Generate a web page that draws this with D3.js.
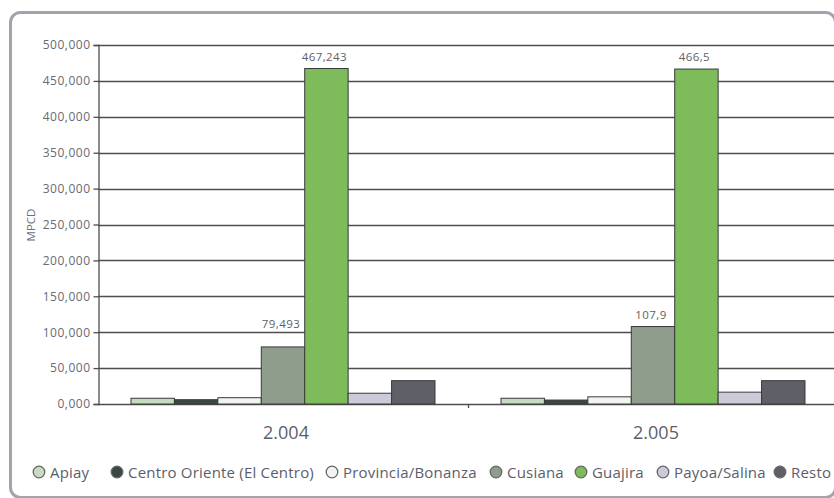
<!DOCTYPE html>
<html>
<head>
<meta charset="utf-8">
<script src="https://cdn.jsdelivr.net/npm/d3@7"></script>
<style>
  html, body { margin: 0; padding: 0; background: #ffffff; overflow: hidden; }
  svg { display: block; font-family: "Open Sans", "Noto Sans", sans-serif; }
</style>
</head>
<body>
<svg id="chart" width="834" height="498"></svg>
<script>
// Gas production by field (MPCD), years 2.004 and 2.005
const years = ["2.004", "2.005"];
const fields = ["Apiay", "Centro Oriente (El Centro)", "Provincia/Bonanza", "Cusiana", "Guajira", "Payoa/Salina", "Resto"];
const values2004 = [8.0, 6.0, 8.8, 79.493, 467.243, 15.0, 32.5];
const values2005 = [8.0, 5.5, 10.0, 107.9, 466.5, 16.5, 32.5];
const yTicks = [0, 50, 100, 150, 200, 250, 300, 350, 400, 450, 500];
// Only these bars carry value labels, written as printed
const labelled = { "2.004": { "Cusiana": "79,493", "Guajira": "467,243" },
                   "2.005": { "Cusiana": "107,9", "Guajira": "466,5" } };
const fieldColors = ["#c6dcc0", "#3a4840", "#f0f5ef", "#8f9d8c", "#7dbb5b", "#cbcad9", "#5f6067"];

const valuesByYear = { "2.004": values2004, "2.005": values2005 };

const svg = d3.select("#chart");

// outer rounded frame
svg.append("rect")
  .attr("x", 10.5).attr("y", 12.5)
  .attr("width", 825).attr("height", 485)
  .attr("rx", 10).attr("ry", 10)
  .attr("fill", "none")
  .attr("stroke", "#a3a3ab")
  .attr("stroke-width", 3);

const plotLeft = 98, plotRight = 838, plotTop = 45, plotBottom = 404;

const y = d3.scaleLinear().domain([0, 500]).range([plotBottom, plotTop]);
const x0 = d3.scaleBand().domain(years).range([plotLeft, plotRight]).padding(0);
const x1 = d3.scaleBand().domain(fields).range([0, x0.bandwidth()])
  .paddingInner(0).paddingOuter(0.76);
const color = d3.scaleOrdinal().domain(fields).range(fieldColors);

// decimal comma, three decimals on the axis
const fmtAxis = v => d3.format(".3f")(v).replace(".", ",");

// horizontal gridlines
svg.append("g")
  .selectAll("line")
  .data(yTicks)
  .join("line")
  .attr("x1", plotLeft).attr("x2", 834)
  .attr("y1", d => Math.round(y(d)) + 0.5)
  .attr("y2", d => Math.round(y(d)) + 0.5)
  .attr("stroke", "#4e4e4e")
  .attr("stroke-width", 1.3);

// y axis
const yAxis = svg.append("g")
  .attr("transform", `translate(${plotLeft + 0.5},0)`)
  .call(d3.axisLeft(y).tickValues(yTicks).tickFormat(fmtAxis).tickSize(5).tickPadding(3));
yAxis.select(".domain").attr("stroke", "#4e4e4e").attr("stroke-width", 1.3);
yAxis.selectAll(".tick line").attr("stroke", "#4e4e4e").attr("stroke-width", 1.3);
yAxis.selectAll(".tick text")
  .attr("fill", "#686a74")
  .style("font-size", "12px")
  .style("letter-spacing", "0.5px")
  .style("font-family", "'Open Sans', sans-serif");

// category separator tick below the baseline
svg.append("line")
  .attr("x1", x0("2.005") + 0.5).attr("x2", x0("2.005") + 0.5)
  .attr("y1", plotBottom).attr("y2", plotBottom + 4)
  .attr("stroke", "#4e4e4e").attr("stroke-width", 1.3);

// bars
const groups = svg.append("g")
  .selectAll("g")
  .data(years)
  .join("g")
  .attr("transform", d => `translate(${x0(d)},0)`);

groups.selectAll("rect")
  .data(yr => fields.map((f, i) => ({ year: yr, field: f, value: valuesByYear[yr][i] })))
  .join("rect")
  .attr("x", d => x1(d.field))
  .attr("y", d => y(d.value))
  .attr("width", x1.bandwidth())
  .attr("height", d => y(0) - y(d.value))
  .attr("fill", d => color(d.field))
  .attr("stroke", "#3a3a3a")
  .attr("stroke-width", 1);

// value label baseline: just above the bar, lifted clear of any gridline it would cross
function labelBaseline(v) {
  let base = y(v) - 8;
  const top = base - 9;
  const hit = yTicks.map(t => y(t)).find(gy => gy >= top && gy <= base + 2);
  if (hit !== undefined) base = hit - 4;
  return base;
}

// value labels
groups.selectAll("text.val")
  .data(yr => fields.map((f, i) => ({ year: yr, field: f, value: valuesByYear[yr][i] }))
    .filter(d => labelled[d.year][d.field]))
  .join("text")
  .attr("class", "val")
  .attr("x", d => x1(d.field) + x1.bandwidth() / 2 - 2)
  .attr("y", d => labelBaseline(d.value))
  .attr("text-anchor", "middle")
  .attr("fill", "#5e5f6a")
  .style("font-size", "11.5px")
  .style("letter-spacing", "0.4px")
  .text(d => labelled[d.year][d.field]);

// category labels
svg.append("g")
  .selectAll("text")
  .data(years)
  .join("text")
  .attr("x", d => x0(d) + x0.bandwidth() / 2 + 3)
  .attr("y", 439)
  .attr("text-anchor", "middle")
  .attr("fill", "#5e5f6a")
  .style("font-size", "18px")
  .text(d => d);

// y axis title
svg.append("text")
  .attr("transform", "translate(35,225) rotate(-90)")
  .attr("text-anchor", "middle")
  .attr("fill", "#66708a")
  .style("font-size", "11.5px")
  .text("MPCD");

// legend
const legendX = [39, 117, 332, 496, 581, 663, 780];
const legend = svg.append("g")
  .selectAll("g")
  .data(fields)
  .join("g")
  .attr("transform", (d, i) => `translate(${legendX[i]},472)`);
legend.append("circle")
  .attr("r", 5.8)
  .attr("fill", d => color(d))
  .attr("stroke", "#666")
  .attr("stroke-width", 1.3);
legend.append("text")
  .attr("x", 11)
  .attr("y", 5.5)
  .attr("fill", "#5a5e6c")
  .style("font-size", "15px")
  .style("letter-spacing", "0.2px")
  .text(d => d);
</script>
</body>
</html>
